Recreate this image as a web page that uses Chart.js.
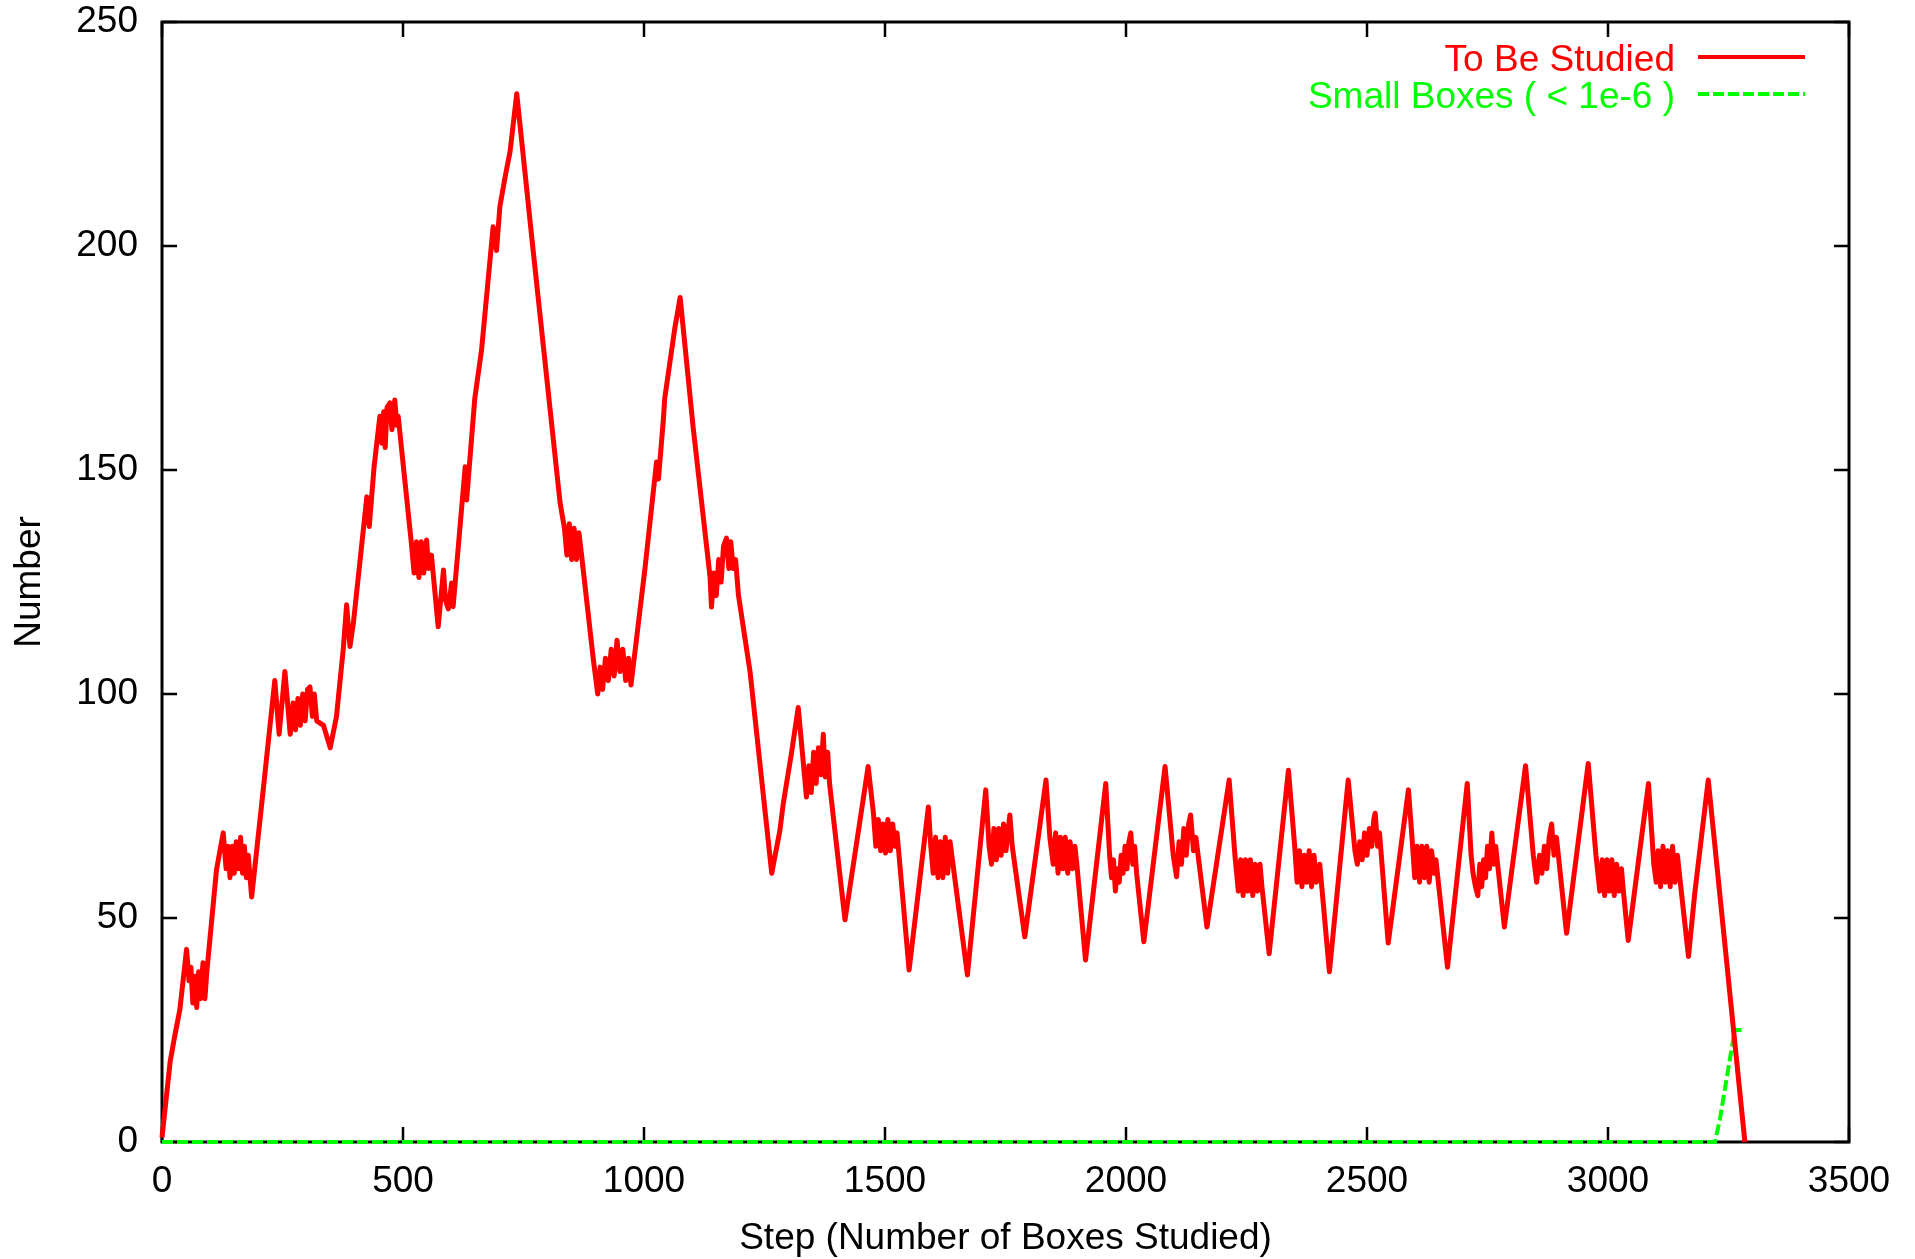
<!DOCTYPE html>
<html>
<head>
<meta charset="utf-8">
<script src="https://cdn.jsdelivr.net/npm/chart.js@4/dist/chart.umd.min.js"></script>
<style>
  html, body { margin: 0; padding: 0; background: #ffffff; }
  #wrap { width: 1915px; height: 1259px; }
</style>
</head>
<body>
<div id="wrap"><canvas id="c" width="1915" height="1259" style="width:1915px;height:1259px"></canvas></div>
<script>
// ---- data ----
const seriesLabels = ["To Be Studied", "Small Boxes ( < 1e-6 )"];
const xTitle = "Step (Number of Boxes Studied)";
const yTitle = "Number";
const xTickValues = [0, 500, 1000, 1500, 2000, 2500, 3000, 3500];
const yTickValues = [0, 50, 100, 150, 200, 250];

const studiedSteps = [0,17,27,37,51,56,60,64,68,72,76,80,85,89,93,113,127,133,137,141,146,150,154,158,163,167,171,175,179,183,186,210,234,243,255,266,272,277,282,287,292,297,302,307,312,316,321,335,349,362,376,383,390,397,425,430,440,452,456,460,463,467,473,477,483,487,490,518,523,528,533,538,543,549,553,559,573,584,588,594,601,604,629,632,649,663,687,694,701,712,722,736,770,826,835,840,845,850,855,860,865,871,895,904,909,914,920,926,932,938,944,950,956,962,968,973,1002,1026,1030,1040,1043,1064,1075,1102,1137,1140,1145,1150,1155,1160,1165,1171,1176,1180,1185,1190,1196,1220,1265,1282,1289,1306,1320,1337,1342,1347,1352,1357,1362,1367,1372,1376,1381,1385,1417,1465,1476,1481,1486,1491,1496,1501,1506,1511,1516,1521,1525,1550,1590,1595,1600,1605,1610,1615,1620,1625,1630,1635,1641,1671,1709,1716,1721,1726,1731,1736,1741,1746,1751,1759,1764,1790,1834,1842,1849,1854,1859,1864,1869,1874,1879,1884,1889,1894,1898,1916,1958,1966,1970,1974,1978,1982,1986,1990,1994,1998,2002,2006,2010,2014,2018,2022,2037,2081,2098,2105,2110,2115,2120,2125,2130,2134,2140,2145,2168,2214,2226,2233,2238,2243,2248,2253,2258,2263,2268,2273,2278,2282,2297,2337,2350,2355,2360,2365,2370,2375,2380,2385,2390,2395,2402,2422,2461,2475,2480,2485,2490,2495,2500,2505,2510,2514,2517,2522,2526,2544,2586,2594,2599,2604,2609,2614,2619,2624,2629,2634,2639,2643,2667,2708,2716,2720,2725,2730,2734,2738,2742,2746,2750,2754,2759,2763,2767,2772,2785,2829,2845,2852,2858,2863,2868,2873,2878,2883,2888,2893,2897,2914,2959,2975,2983,2988,2993,2998,3003,3008,3013,3018,3023,3028,3031,3042,3084,3095,3100,3104,3109,3114,3119,3124,3129,3134,3139,3144,3150,3167,3180,3208,3284];
const studiedCounts = [1,18,24,29.5,43,36,39,31,37,30,38,32,40,32,38,60.7,69,61,66,59,66,60,67,61,68,60,66,59,64,58.5,54.7,78.6,103,91,105,91,98,92,99,93,100,94,101,101.6,95,100,94,93,88,95,110,119.9,110.6,115.8,144,137.4,150.7,162,156,163,155,164,165,159,165.6,160,162,133,127,134,126,134,127,134.4,128,131,115,127.7,121,119,124.8,119.5,150.7,143.3,166,176.8,204.3,199,208.8,215.5,221,234,199,142.6,137,131,138,130,137,130,136,130.5,107.6,100,106,101,108,103,110,104,112,105,110,103,108,102,128,151.8,148,161,166,181.7,188.5,159.5,126.2,119.4,127,122,130,125,133,134.8,128,134,128,130,122,105,60,69.6,75.6,86.8,97,77,84,78,87,80,88,82,91,81.5,87,80,49.6,83.8,73.4,66,72,65,71,64.5,72,65,71,66,69,38.4,74.8,66,60,68,59,67,59,68,60,67,62,37.3,78.6,66,62,70,63,70,64,71,65,73,66,45.8,80.8,68,62,69,60,68,61,68,60,67,61,66,62,40.6,80,64,59,63,56,61,58,64,60,66,61,67,69,62,66,60,44.7,83.8,64,59.2,67,62,70,64,71,73,65,68,48,80.8,64,56,63,55,63,56,63,55,62,56,62,57,42,83,66,58,65,57,64,58,65,57,64,58,62,38,80.8,65,62,67,63,69,64,70,66,72,73.4,66,69,44.4,78.6,67,59,66,58,66,59,66,58,65,60,63,39,80,64,60,57,55,62,57,63,59,66,61,69,62,66,61,48,84,64,58,64,60,66,61,68,71,64,68,64,46.6,84.5,64,56,63,55,63,56,63,55,62,56,61,57,45,80,62,58,65,57,66,58,65,57,66,58,64,58,41.4,55.5,80.8,0];

const smallSteps = [0, 3222, 3232, 3263, 3277];
const smallCounts = [0, 0, 5, 25, 25];

// ---- build chart ----
const FONT = "'Liberation Sans', Arial, 'DejaVu Sans', sans-serif";
const FSIZE = 37;
const toPoints = (xs, ys) => xs.map((x, i) => ({ x: x, y: ys[i] }));

const frameAndTicks = {
  id: 'frameAndTicks',
  beforeDatasetsDraw(chart) {
    const { ctx, chartArea: a, scales } = chart;
    const len = 15;
    ctx.save();
    ctx.strokeStyle = '#000';
    ctx.lineWidth = 2.5;
    ctx.beginPath();
    scales.x.ticks.forEach(t => {
      const px = Math.round(scales.x.getPixelForValue(t.value));
      ctx.moveTo(px, a.bottom); ctx.lineTo(px, a.bottom - len);
      ctx.moveTo(px, a.top); ctx.lineTo(px, a.top + len);
    });
    scales.y.ticks.forEach(t => {
      const py = Math.round(scales.y.getPixelForValue(t.value));
      ctx.moveTo(a.left, py); ctx.lineTo(a.left + len, py);
      ctx.moveTo(a.right, py); ctx.lineTo(a.right - len, py);
    });
    ctx.stroke();
    ctx.lineWidth = 3;
    ctx.strokeRect(a.left, a.top, a.right - a.left, a.bottom - a.top);
    ctx.restore();
  }
};

const keyBox = {
  id: 'keyBox',
  afterDatasetsDraw(chart) {
    const { ctx } = chart;
    const textRight = 1675, lineX0 = 1698, lineX1 = 1805;
    const rows = [{ base: 71, mid: 57 }, { base: 108, mid: 94 }];
    ctx.save();
    ctx.font = FSIZE + 'px ' + FONT;
    ctx.textAlign = 'right';
    ctx.textBaseline = 'alphabetic';
    chart.data.datasets.forEach((ds, i) => {
      const r = rows[i];
      ctx.fillStyle = ds.borderColor;
      ctx.fillText(ds.label, textRight, r.base);
      ctx.strokeStyle = ds.borderColor;
      ctx.lineWidth = 4;
      ctx.setLineDash(ds.borderDash || []);
      ctx.beginPath();
      ctx.moveTo(lineX0, r.mid);
      ctx.lineTo(lineX1, r.mid);
      ctx.stroke();
    });
    ctx.restore();
  }
};

new Chart(document.getElementById('c'), {
  type: 'line',
  data: {
    datasets: [
      {
        label: seriesLabels[0],
        data: toPoints(studiedSteps, studiedCounts),
        borderColor: '#ff0000',
        backgroundColor: '#ff0000',
        borderWidth: 5,
        borderJoinStyle: 'round',
        pointRadius: 0,
        tension: 0,
        fill: false,
        clip: false
      },
      {
        label: seriesLabels[1],
        data: toPoints(smallSteps, smallCounts),
        borderColor: '#00ff00',
        backgroundColor: '#00ff00',
        borderWidth: 4,
        borderDash: [11, 4],
        pointRadius: 0,
        tension: 0,
        fill: false,
        clip: false
      }
    ]
  },
  options: {
    responsive: false,
    animation: false,
    devicePixelRatio: 1,
    layout: { padding: { top: 0, right: 66, left: 0, bottom: 0 } },
    plugins: {
      legend: { display: false },
      tooltip: { enabled: false }
    },
    scales: {
      x: {
        type: 'linear',
        min: 0, max: 3500,
        afterBuildTicks(scale) { scale.ticks = xTickValues.map(v => ({ value: v })); },
        afterFit(scale) { scale.height = 117; },
        grid: { display: false, drawTicks: false },
        border: { display: false },
        ticks: { color: '#000', font: { family: FONT, size: FSIZE }, padding: 18, maxRotation: 0, autoSkip: false,
                 callback: v => String(v) },
        title: { display: true, text: xTitle, color: '#000', font: { family: FONT, size: FSIZE }, padding: { top: 0, bottom: -1.5 } }
      },
      y: {
        type: 'linear',
        min: 0, max: 250,
        afterBuildTicks(scale) { scale.ticks = yTickValues.map(v => ({ value: v })); },
        afterFit(scale) { scale.width = 162; scale.paddingTop = 22; },
        grid: { display: false, drawTicks: false },
        border: { display: false },
        ticks: { color: '#000', font: { family: FONT, size: FSIZE }, padding: 24, autoSkip: false,
                 callback: v => String(v) },
        title: { display: true, text: yTitle, color: '#000', font: { family: FONT, size: FSIZE }, padding: { top: 8, bottom: 0 } }
      }
    }
  },
  plugins: [frameAndTicks, keyBox]
});
</script>
</body>
</html>
